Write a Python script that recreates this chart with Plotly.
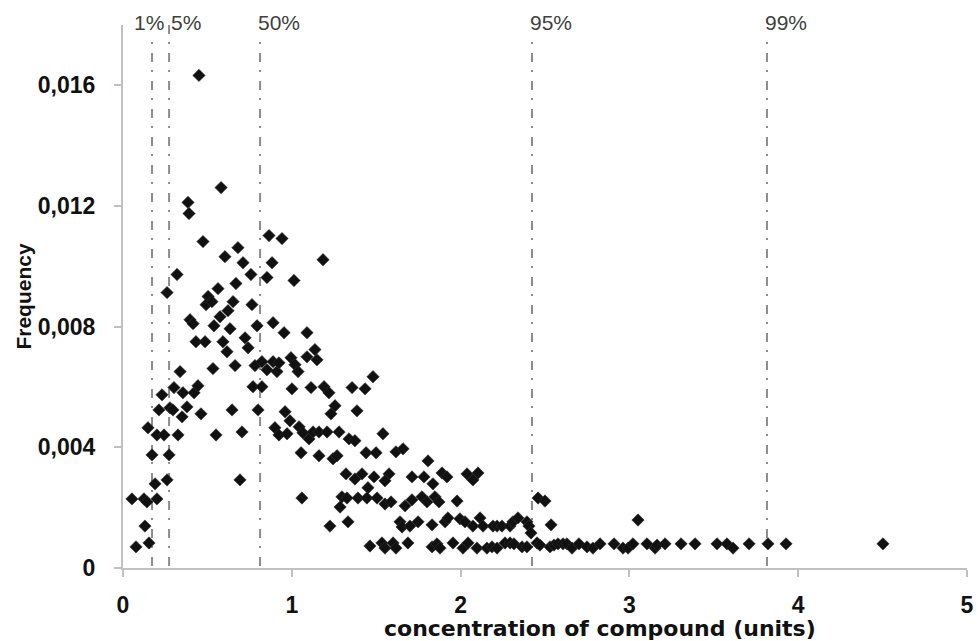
import plotly.graph_objects as go

# concentration (units)
conc = [
    0.053, 0.124, 0.142, 0.201, 0.077, 0.154, 0.130, 0.190, 0.261, 0.172,
    0.273, 0.148, 0.201, 0.243, 0.326, 0.213, 0.278, 0.296, 0.231, 0.302,
    0.355, 0.350, 0.379, 0.421, 0.444, 0.462, 0.338, 0.432, 0.486, 0.397,
    0.415, 0.533, 0.551, 0.646, 0.664, 0.693, 0.705, 0.539, 0.592, 0.616,
    0.634, 0.575, 0.723, 0.741, 0.782, 0.794, 0.770, 0.823, 0.800, 0.823,
    0.853, 0.889, 0.889, 0.912, 0.900, 0.924, 0.450, 0.581, 0.385, 0.391,
    0.474, 0.865, 0.942, 0.604, 0.681, 0.711, 0.883, 0.758, 0.853, 0.320,
    0.261, 0.669, 0.563, 0.504, 0.492, 0.652, 0.764, 0.622, 1.185, 1.013,
    0.527, 0.954, 1.090, 1.137, 1.090, 1.149, 0.995, 1.019, 1.037, 0.924,
    1.481, 1.001, 1.114, 1.191, 1.357, 1.434, 1.220, 1.256, 1.232, 1.386,
    0.960, 0.989, 0.972, 1.043, 1.066, 1.102, 1.126, 1.161, 1.209, 1.280,
    1.339, 1.374, 1.540, 1.055, 1.161, 1.244, 1.268, 1.440, 1.499, 1.617,
    1.659, 1.321, 1.374, 1.416, 1.487, 1.576, 1.552, 1.712, 1.451, 1.060,
    1.297, 1.327, 1.286, 1.392, 1.445, 1.505, 1.552, 1.588, 1.671, 1.712,
    1.226, 1.333, 1.641, 1.653, 1.700, 1.748, 1.463, 1.534, 1.552, 1.600,
    1.617, 1.688, 1.807, 1.783, 1.836, 1.890, 1.919, 2.038, 2.073, 2.103,
    1.771, 1.801, 1.848, 1.872, 1.979, 2.459, 2.500, 1.831, 1.908, 1.925,
    1.996, 2.026, 2.073, 2.115, 2.133, 2.192, 2.216, 2.245, 2.293, 2.310,
    2.340, 2.393, 2.405, 2.417, 2.536, 3.051, 1.831, 1.860, 1.878, 1.955,
    2.014, 2.044, 2.097, 2.156, 2.186, 2.216, 2.263, 2.293, 2.316, 2.364,
    2.393, 2.453, 2.470, 2.530, 2.553, 2.577, 2.607, 2.630, 2.660, 2.701,
    2.749, 2.784, 2.826, 2.909, 2.962, 2.992, 3.021, 3.104, 3.152, 3.164,
    3.211, 3.306, 3.389, 3.519, 3.578, 3.614, 3.709, 3.821, 3.928, 4.502,
]

# frequency (x 0.001)
freq_milli = [
    2.29, 2.29, 2.19, 2.29, 0.70, 0.83, 1.39, 2.79, 2.92, 3.75,
    3.75, 4.65, 4.41, 4.41, 4.41, 5.24, 5.31, 5.24, 5.74, 5.98,
    5.81, 5.01, 5.34, 5.81, 6.04, 5.11, 6.51, 7.50, 7.50, 8.23,
    8.10, 6.61, 4.41, 5.24, 6.71, 2.92, 4.51, 8.03, 7.50, 7.17,
    7.93, 8.33, 7.63, 7.30, 6.71, 8.03, 6.01, 6.01, 5.24, 6.84,
    6.57, 6.84, 8.13, 6.51, 4.65, 4.41, 16.33, 12.61, 12.12, 11.75,
    10.82, 11.02, 10.92, 10.32, 10.62, 10.12, 10.12, 9.73, 9.63, 9.73,
    9.13, 9.43, 9.26, 9.00, 8.73, 8.83, 8.73, 8.53, 10.22, 9.53,
    8.83, 7.80, 7.80, 7.24, 7.00, 6.90, 6.97, 6.74, 6.51, 6.80,
    6.34, 5.94, 5.98, 6.01, 5.98, 5.94, 5.81, 5.38, 5.11, 5.21,
    5.18, 4.88, 4.45, 4.68, 4.48, 4.28, 4.51, 4.51, 4.51, 4.51,
    4.28, 4.22, 4.45, 3.82, 3.72, 3.62, 3.72, 3.82, 3.82, 3.85,
    3.95, 3.12, 2.95, 3.12, 3.02, 3.12, 2.89, 3.02, 2.66, 2.32,
    2.36, 2.32, 2.02, 2.32, 2.32, 2.32, 2.12, 2.19, 2.06, 2.26,
    1.39, 1.53, 1.53, 1.36, 1.39, 1.53, 0.73, 0.83, 0.66, 0.83,
    0.66, 0.83, 3.55, 3.02, 2.79, 3.15, 3.02, 3.12, 2.92, 3.15,
    2.36, 2.19, 2.36, 2.19, 2.22, 2.32, 2.22, 1.43, 1.53, 1.66,
    1.63, 1.53, 1.39, 1.66, 1.39, 1.39, 1.39, 1.39, 1.39, 1.53,
    1.66, 1.53, 1.39, 1.16, 1.43, 1.59, 0.70, 0.80, 0.66, 0.83,
    0.66, 0.83, 0.66, 0.66, 0.70, 0.66, 0.83, 0.83, 0.80, 0.70,
    0.70, 0.83, 0.76, 0.70, 0.76, 0.80, 0.80, 0.80, 0.66, 0.80,
    0.70, 0.66, 0.80, 0.80, 0.66, 0.66, 0.80, 0.80, 0.66, 0.76,
    0.80, 0.80, 0.80, 0.80, 0.80, 0.66, 0.80, 0.80, 0.80, 0.80,
]
freq = [v / 1000 for v in freq_milli]

# percentile markers
pct_labels = ["1%", "5%", "50%", "95%", "99%"]
pct_values = [0.172, 0.273, 0.812, 2.423, 3.815]

x_ticks = [0, 1, 2, 3, 4, 5]
x_ticktext = ["0", "1", "2", "3", "4", "5"]
y_ticks = [0, 0.004, 0.008, 0.012, 0.016]
y_ticktext = ["0", "0,004", "0,008", "0,012", "0,016"]

Y_TOP = 0.018

fig = go.Figure()
fig.add_trace(go.Scatter(
    x=conc, y=freq, mode="markers",
    marker=dict(symbol="diamond", size=9.5, color="#111111",
                line=dict(width=0.6, color="#333333")),
    showlegend=False, cliponaxis=False,
))

for lab, val in zip(pct_labels, pct_values):
    fig.add_shape(type="line", xref="x", yref="y",
                  x0=val, x1=val, y0=Y_TOP, y1=0,
                  line=dict(color="#8c8c8c", width=2, dash="9px,8px,2px,9px"),
                  layer="below")

shifts = {"1%": -19, "5%": 1, "50%": -3, "95%": -3, "99%": -3}
for lab, val in zip(pct_labels, pct_values):
    fig.add_annotation(x=val, y=1.005, xref="x", yref="paper",
                       text=lab, showarrow=False, xanchor="left",
                       yanchor="middle", xshift=shifts[lab],
                       bgcolor="white", borderpad=0,
                       font=dict(family="Liberation Sans", size=21, color="#404040"))

fig.add_annotation(x=0.565, y=-0.111, xref="paper", yref="paper",
                   text="<b>concentration of compound (units)</b>",
                   showarrow=False, xanchor="center", yanchor="middle",
                   font=dict(family="DejaVu Sans", size=22, color="#111111"))

fig.update_layout(
    width=978, height=641,
    margin=dict(l=123, r=11, t=25, b=73),
    paper_bgcolor="white", plot_bgcolor="white",
    font=dict(family="Liberation Sans", color="#111111"),
    xaxis=dict(range=[0, 5], tickvals=x_ticks, ticktext=x_ticktext,
               automargin=False,
               showgrid=False, zeroline=False, showline=True,
               linecolor="#c0c0c0", linewidth=2, ticks="outside",
               ticklen=7, tickcolor="#c0c0c0", tickwidth=1.5,
               ticklabelstandoff=8,
               tickfont=dict(family="Liberation Sans", size=23, weight="bold", color="#111111")),
    yaxis=dict(range=[0, Y_TOP], tickvals=y_ticks, ticktext=y_ticktext,
               automargin=False,
               showgrid=False, zeroline=False, showline=True,
               linecolor="#c0c0c0", linewidth=2, ticks="outside",
               ticklen=7, tickcolor="#c0c0c0", tickwidth=1.5,
               ticklabelstandoff=14,
               title=dict(text="<b>Frequency</b>", standoff=0,
                          font=dict(family="Liberation Sans", size=21, color="#111111")),
               tickfont=dict(family="Liberation Sans", size=23, weight="bold", color="#111111")),
)

# remove the default page margin so the figure fills the 978x641 window exactly
fig.write_html("out.html", config={"displayModeBar": False},
               post_script="document.body.style.margin='0px';document.body.style.overflow='hidden';")
